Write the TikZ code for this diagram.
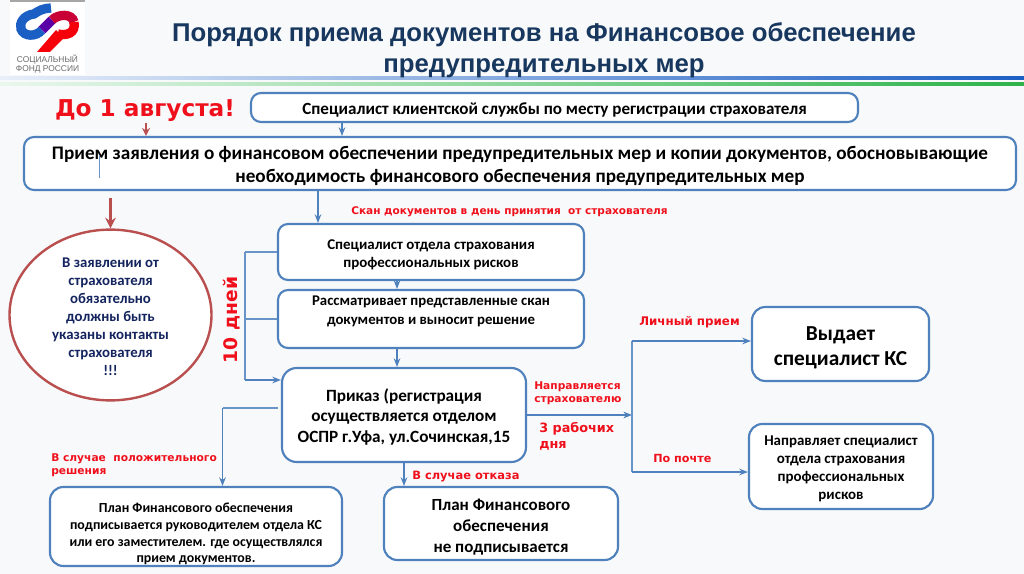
\documentclass[tikz,border=0pt]{standalone}
\usepackage{fontspec}
\setmainfont{Carlito}
\newfontfamily\titlefont{Liberation Sans}
\newfontfamily\redfont{DejaVu Sans}
\usetikzlibrary{arrows.meta,calc,shapes.geometric}
\definecolor{boxblue}{HTML}{4F81BD}
\definecolor{titleblue}{HTML}{17375E}
\definecolor{ovalred}{HTML}{B9504F}
\definecolor{navytext}{HTML}{14245E}
\definecolor{pagegray}{HTML}{F8F9FA}
\definecolor{redtext}{HTML}{F0101C}
\definecolor{ruleblue}{HTML}{1C5FC4}
\definecolor{rulegreen}{HTML}{2DB34A}
\newcommand{\toppad}[1]{\rule{0pt}{#1pt}}

\begin{document}
\begin{tikzpicture}[x=.75pt,y=-.75pt]
	\tikzset{box/.style = {draw=boxblue,fill=white,line width=1.6pt,rounded corners=7.5pt,inner sep=0pt,align=center,font=\bfseries}}
	\tikzset{boxsize/.style 2 args={minimum width=#1*.75pt,minimum height=#2*.75pt}}
	\tikzset{edge/.style={draw=boxblue,line width=.8pt,-{Stealth[length=6.5pt,width=5pt]}}}
	\tikzset{plainedge/.style={draw=boxblue!85,line width=.8pt}}
	\tikzset{rededge/.style={draw=ovalred,line width=2pt,-{Stealth[length=8pt,width=8pt]}}}
	\tikzset{redlabel/.style={text=redtext,inner sep=0pt,align=left,font=\redfont\bfseries\fontsize{8}{9.75}\selectfont}}

	% page
	\fill[pagegray] (0,0) rectangle (1024,574);
	\useasboundingbox (0,0) rectangle (1024,574);
	\fill[white] (10,2) rectangle (85,75);
	\fill[gray!70] (10,0) rectangle (85,2);
	\shade[left color=ruleblue!10,middle color=ruleblue!75,right color=ruleblue] (0,77) rectangle (1024,80);
	\shade[left color=rulegreen!10,middle color=rulegreen!80,right color=rulegreen] (0,83) rectangle (1024,86);

	% logo
	\draw[line width=7pt,color=ruleblue] (51,8) .. controls (44,8) and (38,11) .. (34,14) .. controls (24,15) and (19,23) .. (21,29) .. controls (24,37) and (36,37) .. (42,30);
	\draw[line width=7pt,color=violet!70!blue] (42,30) -- (52,20);
	\draw[line width=7pt,color=purple!85!red] (52,20) .. controls (58,14) and (72,13) .. (74,22);
	\draw[line width=7pt,color=red!85!purple] (74,22) .. controls (76,33) and (67,36) .. (58,34);
	\fill[red!85!purple] (37,52) -- (56,30) -- (64,38) -- (50,52) -- cycle;
	\node[inner sep=0pt,align=center,text=gray!85!black,font=\titlefont\fontsize{6.3}{6.7}\selectfont] (logotext) at (47.5,64) {СОЦИАЛЬНЫЙ\\ФОНД РОССИИ};

	% title
	\node[inner sep=0pt,align=center,text=titleblue,font=\titlefont\bfseries\fontsize{19.3}{23.3}\selectfont] (title) at (544,50.5) {Порядок приема документов на Финансовое обеспечение\\предупредительных мер};

	% boxes
	\node[box,boxsize={607}{29},font=\bfseries\fontsize{12.8}{14}\selectfont] (client) at (554.5,107.5) {\toppad{12.5}Специалист клиентской службы по месту регистрации страхователя};
	\node[box,boxsize={992}{53},font=\bfseries\fontsize{14.4}{17.25}\selectfont] (request) at (520,163.5) {\toppad{14}Прием заявления о финансовом обеспечении предупредительных мер и копии документов, обосновывающие\\необходимость финансового обеспечения предупредительных мер};
	\node[box,boxsize={306}{56},font=\bfseries\fontsize{11.2}{13.5}\selectfont] (expert) at (431,252) {\toppad{12}Специалист отдела страхования\\профессиональных рисков};
	\node[box,boxsize={306}{58},font=\bfseries\fontsize{11.1}{14}\selectfont,text depth=13pt] (review) at (431,319) {Рассматривает представленные скан\\документов и выносит решение};
	\node[box,boxsize={244}{94},rounded corners=11pt,font=\bfseries\fontsize{12.9}{15.4}\selectfont] (order) at (404,415) {\toppad{12}Приказ (регистрация\\осуществляется отделом\\ОСПР г.Уфа, ул.Сочинская,15};
	\node[box,boxsize={292}{79},rounded corners=10pt,font=\bfseries\fontsize{10.4}{12.5}\selectfont] (plansigned) at (196,526.5) {\toppad{18.5}План Финансового обеспечения\\подписывается руководителем отдела КС\\или его заместителем. где осуществлялся\\прием документов.};
	\node[box,boxsize={234}{73},rounded corners=10pt,font=\bfseries\fontsize{12.75}{15.6}\selectfont] (planrefused) at (501,523.5) {\toppad{14}План Финансового\\обеспечения\\не подписывается};
	\node[box,boxsize={177}{74},rounded corners=10pt,font=\bfseries\fontsize{16}{18.8}\selectfont] (issue) at (840.5,344) {\toppad{16.5}Выдает\\специалист КС};
	\node[box,boxsize={184}{85},rounded corners=10pt,font=\bfseries\fontsize{11.2}{13.5}\selectfont] (send) at (841,466.5) {\toppad{11.4}Направляет специалист\\отдела страхования\\профессиональных\\рисков};
	\node[ellipse,draw=ovalred,fill=white,line width=1.8pt,inner sep=0pt,boxsize={202}{164},align=center,text=navytext,font=\bfseries\fontsize{11.1}{13.5}\selectfont] (oval) at (110.5,315) {\toppad{9.5}В заявлении от\\страхователя\\обязательно\\должны быть\\указаны контакты\\страхователя\\!!!};

	% labels
	\node[text=redtext,inner sep=0pt,font=\redfont\bfseries\fontsize{17.4}{20}\selectfont] (deadline) at (145,110.5) {До 1 августа!};
	\node[redlabel,anchor=west,font=\redfont\bfseries\fontsize{7.9}{9.75}\selectfont] (scan) at (351,211.5) {Скан документов в день принятия~ от страхователя};
	\node[redlabel,anchor=west] (positive) at (51,465) {В случае~ положительного\\решения};
	\node[redlabel,anchor=west,font=\redfont\bfseries\fontsize{8.6}{10}\selectfont] (refusal) at (412,476.5) {В случае отказа};
	\node[redlabel,anchor=west] (directed) at (534,393) {Направляется\\страхователю};
	\node[redlabel,anchor=west,font=\redfont\bfseries\fontsize{9.6}{12}\selectfont] (workdays) at (539,436.5) {3 рабочих\\дня};
	\node[redlabel,anchor=west,font=\redfont\bfseries\fontsize{8.9}{10}\selectfont] (personal) at (639,322.5) {Личный прием};
	\node[redlabel,anchor=west,font=\redfont\bfseries\fontsize{8.4}{10}\selectfont] (bypost) at (653,458.5) {По почте};
	\node[text=redtext,inner sep=0pt,rotate=90,font=\redfont\bfseries\fontsize{14}{16}\selectfont] (tendays) at (232,320) {10 дней};

	% connectors
	\coordinate (colA) at (342,0);
	\coordinate (colB) at (146,0);
	\coordinate (colC) at (318,0);
	\coordinate (colD) at (397,0);
	\coordinate (colE) at (222.5,0);
	\coordinate (ovaltop) at (110.5,198);
	\coordinate (stray1) at (99,155);
	\coordinate (stray2) at (99,178);
	\coordinate (rail) at (245,0);
	\coordinate (orderleft) at (278,408);
	\coordinate (fork) at (632,415);
	\coordinate (forktop) at (632,341);
	\coordinate (forkbot) at (632,472);
	\coordinate (railin) at (245,380);

	\draw[edge] (client.south -| colA) to (request.north -| colA);
	\draw[rededge,line width=1.5pt,-{Stealth[length=6pt,width=6pt]}] (client.south -| colB) to (request.north -| colB);
	\draw[rededge] (ovaltop) to (oval.north);
	\draw[plainedge,line width=.4pt] (stray1) to (stray2);
	\draw[edge] (request.south -| colC) to (expert.north -| colC);
	\draw[edge] (expert.south -| colD) to (review.north -| colD);
	\draw[edge] (review.south -| colD) to (order.north -| colD);
	\draw[plainedge] (expert.west) to (expert.west -| rail);
	\draw[plainedge] (review.west) to (review.west -| rail);
	\draw[plainedge] (expert.west -| rail) to (railin);
	\draw[edge] (railin) to (railin -| order.west);
	\draw[plainedge] (orderleft) to (orderleft -| colE);
	\draw[edge] (orderleft -| colE) to (plansigned.north -| colE);
	\draw[edge] (order.south) to (planrefused.north -| order.south);
	\draw[edge] (order.east) to (fork);
	\draw[plainedge] (forktop) to (forkbot);
	\draw[edge] (forktop) to (issue.west |- forktop);
	\draw[edge] (forkbot) to (send.west |- forkbot);
\end{tikzpicture}
\end{document}
